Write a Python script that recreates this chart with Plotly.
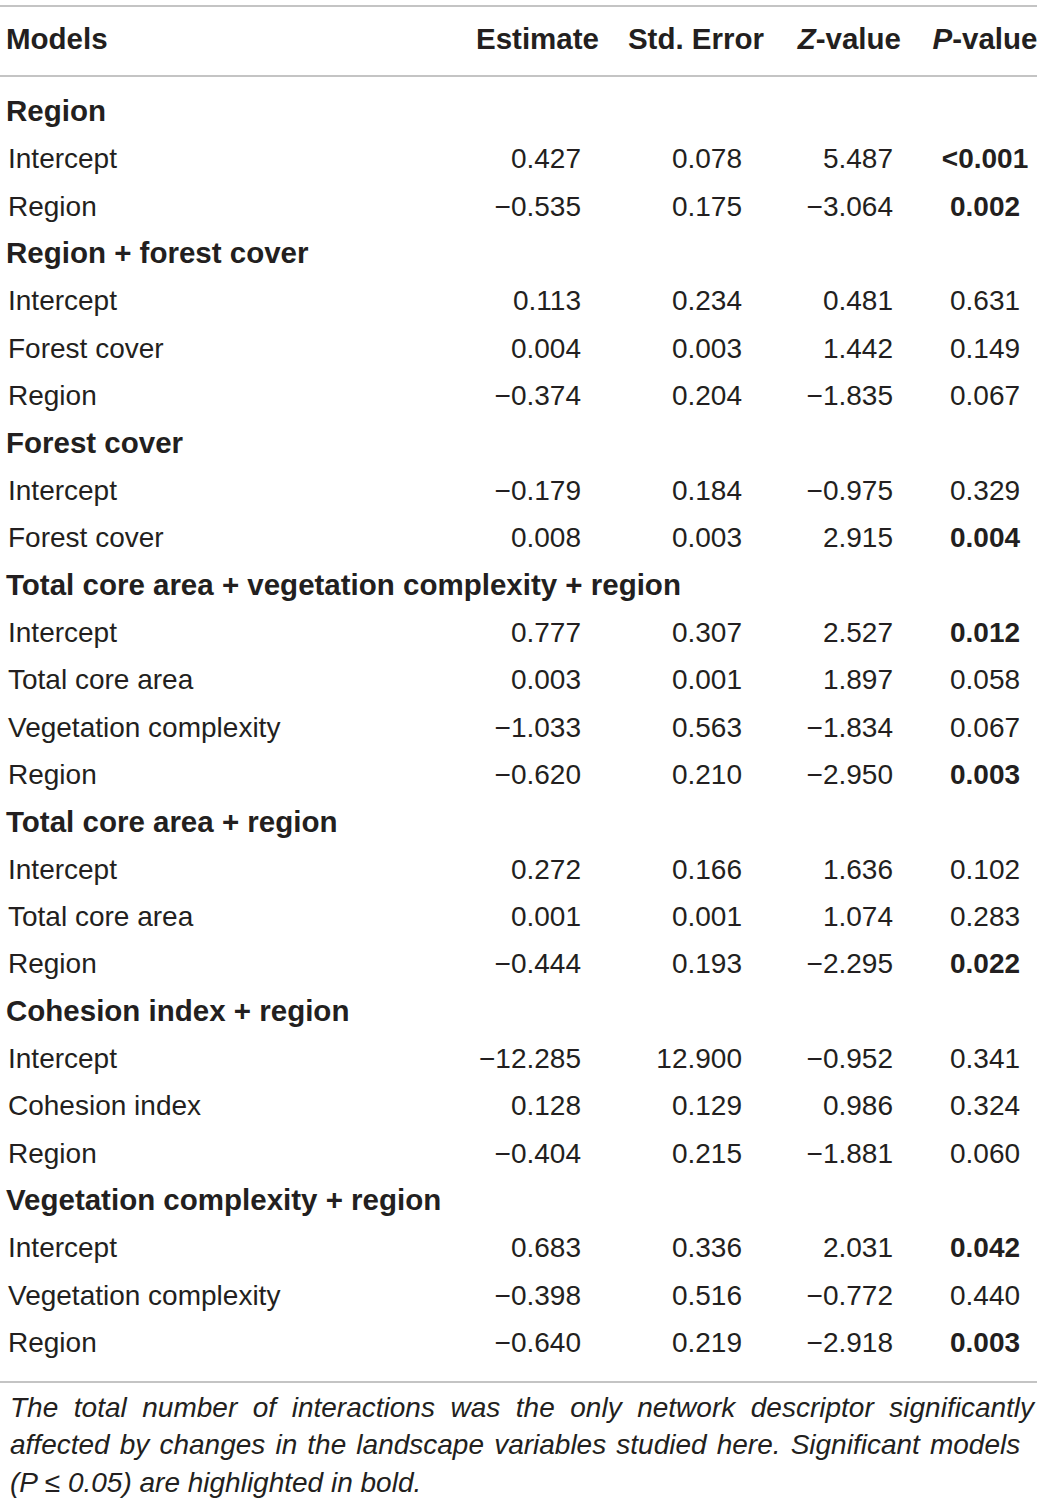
import plotly.graph_objects as go

# Table content
headers = ["Models", "Estimate", "Std. Error", "<i>Z</i>-value", "<i>P</i>-value"]

labels = [
    "Region", "Intercept", "Region",
    "Region + forest cover", "Intercept", "Forest cover", "Region",
    "Forest cover", "Intercept", "Forest cover",
    "Total core area + vegetation complexity + region", "Intercept", "Total core area",
    "Vegetation complexity", "Region",
    "Total core area + region", "Intercept", "Total core area", "Region",
    "Cohesion index + region", "Intercept", "Cohesion index", "Region",
    "Vegetation complexity + region", "Intercept", "Vegetation complexity", "Region",
]
is_group = [
    True, False, False,
    True, False, False, False,
    True, False, False,
    True, False, False, False, False,
    True, False, False, False,
    True, False, False, False,
    True, False, False, False,
]
estimate = [
    "", "0.427", "−0.535",
    "", "0.113", "0.004", "−0.374",
    "", "−0.179", "0.008",
    "", "0.777", "0.003", "−1.033", "−0.620",
    "", "0.272", "0.001", "−0.444",
    "", "−12.285", "0.128", "−0.404",
    "", "0.683", "−0.398", "−0.640",
]
std_error = [
    "", "0.078", "0.175",
    "", "0.234", "0.003", "0.204",
    "", "0.184", "0.003",
    "", "0.307", "0.001", "0.563", "0.210",
    "", "0.166", "0.001", "0.193",
    "", "12.900", "0.129", "0.215",
    "", "0.336", "0.516", "0.219",
]
z_value = [
    "", "5.487", "−3.064",
    "", "0.481", "1.442", "−1.835",
    "", "−0.975", "2.915",
    "", "2.527", "1.897", "−1.834", "−2.950",
    "", "1.636", "1.074", "−2.295",
    "", "−0.952", "0.986", "−1.881",
    "", "2.031", "−0.772", "−2.918",
]
p_value = [
    "", "<0.001", "0.002",
    "", "0.631", "0.149", "0.067",
    "", "0.329", "0.004",
    "", "0.012", "0.058", "0.067", "0.003",
    "", "0.102", "0.283", "0.022",
    "", "0.341", "0.324", "0.060",
    "", "0.042", "0.440", "0.003",
]
p_bold = [
    False, True, True,
    False, False, False, False,
    False, False, True,
    False, True, False, False, True,
    False, False, False, True,
    False, False, False, False,
    False, True, False, True,
]

# footnote lines; extra spaces roughly imitate the justified paragraph
footnote = [
    "The  total  number  of  interactions  was  the  only  network  descriptor  significantly",
    "affected\u200a by\u200a changes\u200a in\u200a the\u200a landscape\u200a variables\u200a studied\u200a here.\u200a Significant\u200a models",
    "(P ≤ 0.05) are highlighted in bold.",
]

# Layout constants (pixel space of the 1044x1502 page)
W, H = 1044, 1502
FONT = "Liberation Sans"
INK = "#231f20"
RULE = "#b0b0b0"
SIZE = 28
BOLD_SIZE = 29.5
HEADER_Y = 42
ROW0 = 114
ROW_H = 47.35
LEFT_X = 8
COL_RIGHT = [581, 742, 893]   # right edges of Estimate / Std. Error / Z-value
P_CENTER = 985
HEADER_RIGHT = [599, 764, 901]

row_y = [ROW0 + i * ROW_H for i in range(len(labels))]

fig = go.Figure()

# header
fig.add_trace(go.Scatter(
    x=[LEFT_X - 2], y=[HEADER_Y], mode="text", text=["<b>" + headers[0] + "</b>"],
    textposition="middle right", textfont=dict(family=FONT, size=BOLD_SIZE, color=INK),
    hoverinfo="skip"))
fig.add_trace(go.Scatter(
    x=HEADER_RIGHT, y=[HEADER_Y] * 3, mode="text",
    text=["<b>" + h + "</b>" for h in headers[1:4]],
    textposition="middle left", textfont=dict(family=FONT, size=BOLD_SIZE, color=INK),
    hoverinfo="skip"))
fig.add_trace(go.Scatter(
    x=[P_CENTER], y=[HEADER_Y], mode="text", text=["<b>" + headers[4] + "</b>"],
    textposition="middle center", textfont=dict(family=FONT, size=BOLD_SIZE, color=INK),
    hoverinfo="skip"))

# model column: group names in bold, terms in regular weight
grp_idx = [i for i, g in enumerate(is_group) if g]
term_idx = [i for i, g in enumerate(is_group) if not g]
fig.add_trace(go.Scatter(
    x=[LEFT_X - 2] * len(grp_idx), y=[row_y[i] for i in grp_idx], mode="text",
    text=["<b>" + labels[i] + "</b>" for i in grp_idx],
    textposition="middle right", textfont=dict(family=FONT, size=BOLD_SIZE, color=INK),
    hoverinfo="skip"))
fig.add_trace(go.Scatter(
    x=[LEFT_X] * len(term_idx), y=[row_y[i] for i in term_idx], mode="text",
    text=[labels[i] for i in term_idx],
    textposition="middle right", textfont=dict(family=FONT, size=SIZE, color=INK),
    hoverinfo="skip"))

# numeric columns (right aligned)
for col, xr in zip([estimate, std_error, z_value], COL_RIGHT):
    fig.add_trace(go.Scatter(
        x=[xr] * len(col), y=row_y, mode="text", text=col,
        textposition="middle left", textfont=dict(family=FONT, size=SIZE, color=INK),
        hoverinfo="skip"))

# p-values (centred, significant in bold)
fig.add_trace(go.Scatter(
    x=[P_CENTER] * len(p_value), y=row_y, mode="text",
    text=["<b>" + p.replace("<", "&lt;") + "</b>" if b else p
          for p, b in zip(p_value, p_bold)],
    textposition="middle center", textfont=dict(family=FONT, size=SIZE, color=INK),
    hoverinfo="skip"))

# horizontal rules
for yy in [6, 76, 1382]:
    fig.add_shape(type="line", x0=0, x1=1037, y0=yy, y1=yy, xref="x", yref="y",
                  line=dict(color=RULE, width=1.5))

# footnote
for i, line in enumerate(footnote):
    fig.add_annotation(
        x=LEFT_X, y=1407 + i * 37.5, xref="x", yref="y", text="<i>" + line + "</i>",
        showarrow=False, xanchor="left", yanchor="middle",
        font=dict(family=FONT, size=SIZE, color=INK))

fig.update_xaxes(range=[0, W], visible=False, fixedrange=True)
fig.update_yaxes(range=[H, 0], visible=False, fixedrange=True)
fig.update_layout(
    width=W, height=H, margin=dict(l=0, r=0, t=0, b=0),
    plot_bgcolor="white", paper_bgcolor="white", showlegend=False,
)

fig.write_html("out.html", config={"displayModeBar": False},
               post_script="document.body.style.margin = '0';")
